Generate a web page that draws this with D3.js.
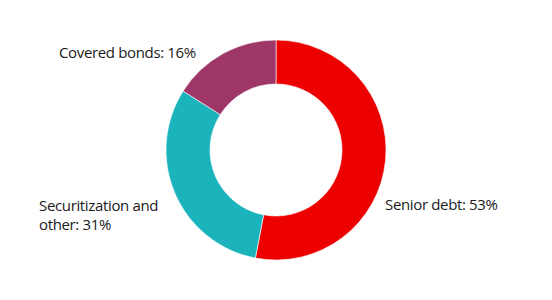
<!DOCTYPE html>
<html><head><meta charset="utf-8">
<script src="https://cdn.jsdelivr.net/npm/d3@7"></script>
<style>body{margin:0;background:#fff}</style>
</head><body>
<svg id="c" width="552" height="300"></svg>
<script>
const categories = ["Senior debt", "Securitization and other", "Covered bonds"];
const values = [53, 31, 16];
const labelLines = [["Senior debt: 53%"], ["Securitization and", "other: 31%"], ["Covered bonds: 16%"]];
const colors = ["#EC0000", "#1BB4BD", "#9E3667"];

const svg = d3.select("#c");
const cx = 276, cy = 150, R = 110, r = 66;
const g = svg.append("g").attr("transform", `translate(${cx},${cy})`);
const pie = d3.pie().sort(null).value(d => d)(values);
const arc = d3.arc().innerRadius(r).outerRadius(R);
g.selectAll("path").data(pie).enter().append("path")
  .attr("d", arc).attr("fill", (d,i) => colors[i])
  .attr("stroke", "#fff").attr("stroke-width", 0.6);

// label anchors (layout)
const labelPos = [{x:385, y:210}, {x:39, y:211}, {x:59, y:58}];
const lineH = 19;
labelLines.forEach((lines, i) => {
  const t = svg.append("text").attr("x", labelPos[i].x).attr("y", labelPos[i].y)
    .attr("font-family", "'Open Sans', sans-serif").attr("font-size", 15)
    .attr("letter-spacing", -0.35).attr("fill", "#1a1a1a");
  lines.forEach((l, j) => t.append("tspan").attr("x", labelPos[i].x).attr("dy", j ? lineH : 0).text(l));
});
</script>
</body></html>
